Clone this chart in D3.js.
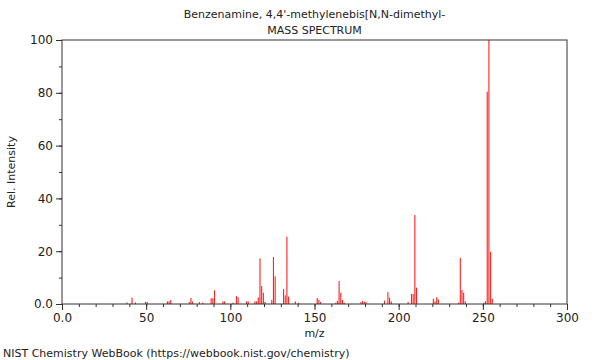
<!DOCTYPE html>
<html>
<head>
<meta charset="utf-8">
<script src="https://cdn.jsdelivr.net/npm/d3@7"></script>
<style>
  body { margin: 0; background: #fff; }
  svg { display: block; font-family: "DejaVu Sans", sans-serif; }
</style>
</head>
<body>
<svg id="chart" width="600" height="360"></svg>
<script>
const titleLines = ["Benzenamine, 4,4'-methylenebis[N,N-dimethyl-", "MASS SPECTRUM"];
const xTicks = [0, 50, 100, 150, 200, 250, 300];
const yTicks = [0, 20, 40, 60, 80, 100];
const mz = [39,42,44,50,51,63,64,65,76,77,78,82,84,89,90,91,96,97,102,104,105,110,111,115,116,117,118,119,120,121,125,126,127,132,133,134,135,139,141,152,153,154,163,164,165,166,167,168,178,179,180,181,192,194,195,196,206,208,209,210,211,221,222,223,224,236,237,238,239,240,251,252,253,254,255,256];
const intensity = [0.6,2.4,0.6,0.8,0.8,1.0,1.0,1.5,0.8,2.3,1.0,0.7,0.5,2.2,2.2,5.2,1.0,1.0,0.5,3.0,2.5,1.0,1.0,1.0,1.0,2.5,17.3,6.8,4.3,0.8,1.5,17.8,10.5,5.7,3.3,25.5,2.8,1.0,0.5,2.3,1.6,0.8,0.5,1.2,8.7,4.2,1.5,0.5,0.7,1.2,0.8,0.7,1.3,4.5,2.4,1.0,0.8,3.8,3.8,33.7,6.2,2.0,1.0,2.6,1.7,0.5,17.5,5.3,4.3,1.0,0.5,1.0,80.4,100,19.8,2.0];

const peaks = mz.map((m, i) => ({ m, v: intensity[i] }));

const svg = d3.select("#chart");
const L = 62, R = 567, T = 40, B = 304;
const x = d3.scaleLinear().domain([0, 300]).range([L, R]);
const y = d3.scaleLinear().domain([0, 100]).range([B, T]);
const axisColor = "#333";
const textColor = "#222";

// peaks
svg.append("g").attr("class", "peaks").selectAll("rect").data(peaks).join("rect")
  .attr("x", d => x(d.m) - 1.2).attr("width", 1.1)
  .attr("y", d => y(d.v)).attr("height", d => y(0) - y(d.v))
  .attr("fill", "#ff2020");

// frame
svg.append("rect").attr("x", L).attr("y", T).attr("width", R - L).attr("height", B - T)
  .attr("fill", "none").attr("stroke", axisColor).attr("stroke-width", 1);

function styleAxis(g) {
  g.select(".domain").remove();
  g.selectAll(".tick line").attr("stroke", axisColor);
  g.selectAll(".tick text").attr("fill", textColor).style("font-size", "12px")
    .style("font-family", "'DejaVu Sans', sans-serif");
}

// x minor
svg.append("g").attr("transform", `translate(0,${B})`)
  .call(d3.axisBottom(x).tickValues(d3.range(0, 301, 10)).tickSize(3).tickFormat(""))
  .call(styleAxis);
// x major
svg.append("g").attr("transform", `translate(0,${B})`)
  .call(d3.axisBottom(x).tickValues(xTicks).tickSize(6).tickPadding(3)
    .tickFormat(d => d === 0 ? "0.0" : String(d)))
  .call(styleAxis);
// y minor
svg.append("g").attr("transform", `translate(${L},0)`)
  .call(d3.axisLeft(y).tickValues(d3.range(0, 101, 10)).tickSize(3).tickFormat(""))
  .call(styleAxis);
// y major
svg.append("g").attr("transform", `translate(${L},0)`)
  .call(d3.axisLeft(y).tickValues(yTicks).tickSize(6).tickPadding(3)
    .tickFormat(d => d === 0 ? "0.0" : String(d)))
  .call(styleAxis);

// titles
svg.selectAll("text.title").data(titleLines).join("text")
  .attr("class", "title")
  .attr("x", (L + R) / 2).attr("y", (d, i) => 18 + i * 16)
  .attr("text-anchor", "middle").attr("fill", textColor).style("font-size", "11px")
  .text(d => d);

svg.append("text").attr("x", (L + R) / 2).attr("y", 337)
  .attr("text-anchor", "middle").attr("fill", textColor).style("font-size", "11px").text("m/z");

svg.append("text").attr("transform", `translate(15,${(T + B) / 2}) rotate(-90)`)
  .attr("text-anchor", "middle").attr("fill", textColor).style("font-size", "11px").text("Rel. Intensity");

svg.append("text").attr("x", 3).attr("y", 357).attr("fill", textColor).style("font-size", "11px")
  .text("NIST Chemistry WebBook (https://webbook.nist.gov/chemistry)");
</script>
</body>
</html>
